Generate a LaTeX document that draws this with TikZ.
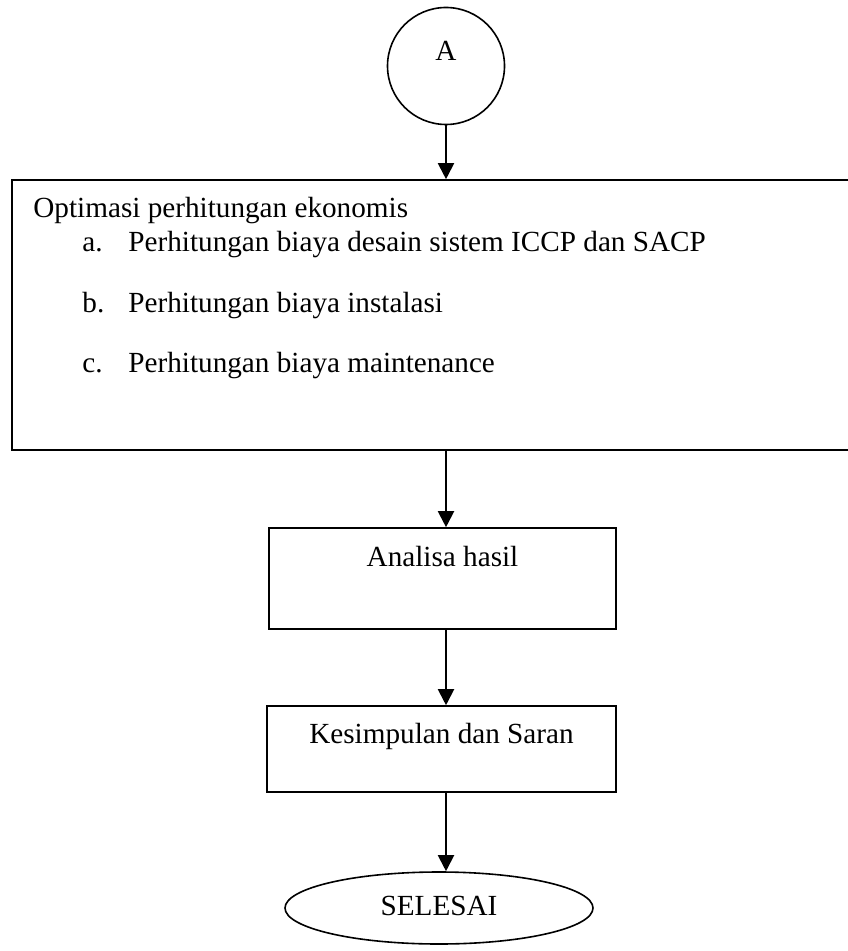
\documentclass[tikz,border=0pt]{standalone}
\usepackage{fontspec}
\setmainfont{Liberation Serif}
\usepackage{tikz}
\usetikzlibrary{arrows.meta,shapes,positioning}
\tikzstyle{arrow} = [line width=1pt,-{Triangle[length=8pt,width=8pt]}]
\tikzstyle{kotak} = [draw, rectangle, line width=0.8pt, inner sep=0pt]
\tikzstyle{teks} = [font=\fontsize{14.6}{17.5}\selectfont]
\tikzstyle{isi} = [anchor=base west, inner sep=0pt]

\begin{document}
\begin{tikzpicture}[x=0.5pt, y=-0.5pt, every node/.style={teks}]
\useasboundingbox (0,0) rectangle (847,951);

\node[draw, circle, line width=0.8pt, minimum size=58.5pt, inner sep=0pt, text height=9.7pt, text depth=14.7pt] (mulai) at (446,66) {A};

\node[kotak, minimum width=419pt, minimum height=135pt] (optimasi) at (431,315) {};
\node[isi] (judul) at (33,218) {Optimasi perhitungan ekonomis};
\node[isi] (ha) at (82,252) {a.};
\node[isi] (ia) at (128,252) {Perhitungan biaya desain sistem ICCP dan SACP};
\node[isi] (hb) at (82,313) {b.};
\node[isi] (ib) at (128,313) {Perhitungan biaya instalasi};
\node[isi] (hc) at (82,372) {c.};
\node[isi] (ic) at (128,372) {Perhitungan biaya maintenance};

\node[kotak, minimum width=173.5pt, minimum height=50.5pt, text height=10.4pt, text depth=22.9pt] (analisa) at (442.5,578.5) {Analisa hasil};
\node[kotak, minimum width=174.5pt, minimum height=43pt, text height=10.4pt, text depth=16.4pt] (saran) at (441.5,749) {Kesimpulan dan Saran};
\node[draw, ellipse, line width=0.8pt, minimum width=154pt, minimum height=36pt, inner sep=0pt, text height=10.4pt, text depth=3.4pt] (selesai) at (439,908) {SELESAI};

\draw[arrow] (mulai.south) -- (mulai.south |- optimasi.north);
\draw[arrow] (optimasi.south -| mulai) -- (analisa.north -| mulai);
\draw[arrow] (analisa.south -| mulai) -- (saran.north -| mulai);
\draw[arrow] (saran.south -| mulai) -- (selesai.north -| mulai);
\end{tikzpicture}
\end{document}
